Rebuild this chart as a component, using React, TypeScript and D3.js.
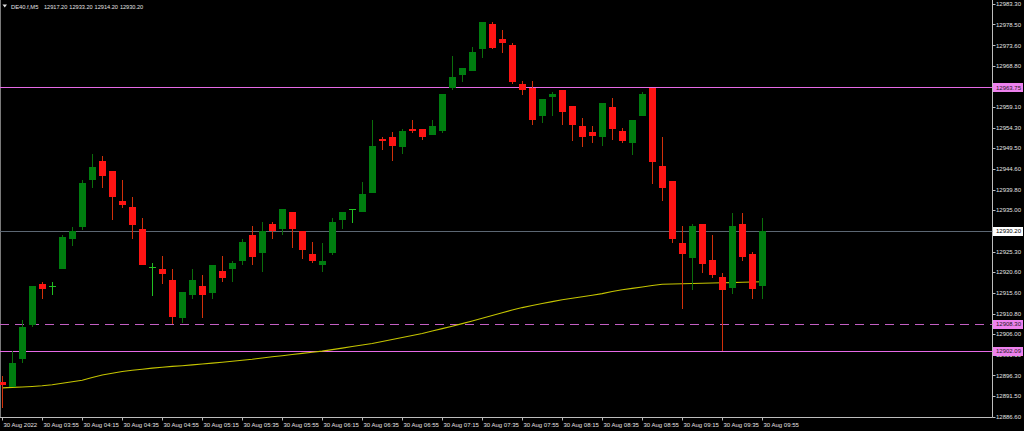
import React from "react";
import * as d3 from "d3";

// ---- data (DE40.f, M5) ----
const opens = [12894.7,12893.5,12900.2,12908.1,12917.7,12917.2,12921.2,12928.3,12931.1,12942.1,12946.6,12944.2,12937.2,12935.8,12930.7,12921.7,12921.2,12918.7,12909.8,12915.2,12917.3,12915.7,12920.8,12921.2,12923.2,12929.2,12925.1,12931.8,12930.6,12934.7,12930.2,12924.8,12922.2,12925.1,12932.7,12935.1,12934.6,12939.1,12951.7,12952.2,12949.7,12954.0,12954.1,12952.6,12953.6,12963.6,12966.6,12967.7,12972.7,12978.7,12975.1,12973.7,12964.6,12963.6,12957.1,12961.6,12963.2,12959.3,12954.7,12953.3,12952.2,12959.2,12953.6,12950.7,12957.1,12963.6,12945.4,12941.9,12927.3,12923.7,12931.7,12923.3,12919.4,12916.7,12931.8,12924.8,12917.2];
const highs = [12896.2,12902.0,12909.3,12917.3,12918.3,12918.3,12929.2,12931.1,12942.1,12948.2,12947.7,12944.2,12942.1,12938.2,12933.2,12922.6,12924.3,12921.2,12915.9,12921.2,12919.8,12922.2,12924.3,12923.2,12928.3,12931.2,12932.3,12932.3,12935.3,12934.7,12930.2,12927.6,12927.3,12933.2,12934.6,12935.3,12941.7,12956.1,12952.1,12953.3,12954.0,12956.1,12954.1,12956.1,12962.2,12971.1,12968.2,12973.2,12979.1,12979.1,12977.1,12974.1,12965.3,12965.3,12961.1,12962.7,12963.2,12959.3,12956.7,12954.7,12960.0,12961.2,12954.2,12956.1,12962.6,12963.6,12952.2,12941.9,12931.3,12931.8,12931.7,12929.2,12920.4,12934.3,12934.3,12925.3,12933.2];
const lows = [12888.7,12893.5,12899.2,12907.7,12914.2,12915.2,12921.2,12926.6,12930.4,12940.2,12940.2,12932.7,12935.6,12928.3,12922.2,12914.8,12917.7,12908.4,12908.7,12914.2,12909.8,12914.2,12918.3,12918.3,12922.2,12922.2,12920.6,12928.3,12929.2,12926.2,12923.6,12922.6,12920.6,12924.5,12930.6,12932.1,12934.6,12939.1,12949.1,12946.6,12948.1,12953.2,12951.5,12952.6,12953.2,12963.2,12965.1,12967.7,12970.6,12972.7,12971.9,12964.6,12962.0,12955.0,12955.5,12957.1,12955.0,12951.1,12949.7,12950.7,12950.0,12951.5,12950.7,12947.9,12957.1,12941.2,12937.2,12927.3,12911.8,12916.3,12920.2,12919.2,12902.1,12915.3,12923.1,12914.2,12914.2];
const closes = [12894.1,12899.3,12907.7,12917.3,12916.6,12917.3,12928.7,12930.2,12941.4,12945.2,12943.1,12938.1,12936.2,12931.6,12922.2,12921.8,12920.1,12910.1,12915.9,12918.7,12915.2,12922.2,12919.1,12922.6,12927.6,12924.1,12930.2,12930.2,12935.3,12930.6,12925.7,12923.2,12923.2,12932.3,12934.6,12935.2,12938.8,12950.1,12951.1,12950.1,12953.6,12953.6,12952.1,12954.7,12962.2,12966.1,12968.2,12972.1,12979.1,12973.1,12974.1,12965.1,12963.2,12956.1,12961.1,12962.2,12958.1,12955.0,12952.1,12952.5,12960.0,12954.0,12951.1,12956.1,12962.2,12946.2,12940.3,12928.3,12924.8,12931.3,12922.3,12919.8,12916.3,12931.3,12924.1,12916.6,12930.2];
const maValues = [12893.39,12893.51,12893.60,12893.72,12893.89,12894.14,12894.49,12894.85,12895.20,12895.83,12896.41,12896.81,12897.23,12897.54,12897.77,12898.03,12898.24,12898.43,12898.59,12898.78,12898.99,12899.20,12899.41,12899.62,12899.86,12900.09,12900.40,12900.68,12900.93,12901.22,12901.47,12901.75,12902.01,12902.36,12902.71,12903.09,12903.44,12903.79,12904.26,12904.73,12905.20,12905.67,12906.13,12906.70,12907.28,12907.84,12908.45,12909.08,12909.72,12910.35,12910.98,12911.64,12912.20,12912.67,12913.14,12913.60,12914.05,12914.40,12914.75,12915.10,12915.48,12915.95,12916.39,12916.70,12917.02,12917.37,12917.66,12917.73,12917.80,12917.84,12917.89,12917.96,12918.01,12918.05,12918.12,12918.19,12918.26];

const priceTicks = [12983.30,12978.50,12973.60,12968.80,12964.00,12959.10,12954.30,12949.50,12944.60,12939.80,12935.00,12930.10,12925.30,12920.60,12915.60,12910.80,12906.00,12901.10,12896.30,12891.50,12886.60];
const timeLabels = ["30 Aug 2022","30 Aug 03:55","30 Aug 04:15","30 Aug 04:35","30 Aug 04:55","30 Aug 05:15","30 Aug 05:35","30 Aug 05:55","30 Aug 06:15","30 Aug 06:35","30 Aug 06:55","30 Aug 07:15","30 Aug 07:35","30 Aug 07:55","30 Aug 08:15","30 Aug 08:35","30 Aug 08:55","30 Aug 09:15","30 Aug 09:35","30 Aug 09:55"];
const labelEvery = 4;

const levelPrices = [12963.75, 12908.30, 12902.09];
const levelDashed = [false, true, false];
const bidPrice = 12930.20;

const symbol = "DE40.f,M5";
const headerValues = ["12917.20", "12933.20", "12914.20", "12930.20"];

const W = 1024, H = 431;
const axisX = 992.5;
const plotBottom = 417.5;
const FONT = "'Liberation Sans', Arial, sans-serif";
const TXT = "#e2e2e2";

export default function App() {
  const n = closes.length;
  const x = d3.scaleLinear().domain([0, n - 1]).range([2.2, 2.2 + 10 * (n - 1)]);
  const y = d3.scaleLinear().domain([12886.60, 12983.30]).range([416.9, 4]);
  const py = (p: number) => Math.round(y(p)) + 0.5;
  const maLine = d3.line<number>().x((_, i) => x(i)).y((d) => y(d));

  const bull = "#007d10", bullWick = "#0b6e0b";
  const bear = "#ff1414", bearWick = "#d2300a";
  const doji = "#22c022";

  return (
    <svg width={W} height={H} style={{ position: "absolute", left: 0, top: 0, display: "block", background: "#000" }}
      fontFamily={FONT}>
      <rect x={0} y={0} width={W} height={H} fill="#000" />
      {/* frame */}
      <line x1={0.5} y1={0} x2={0.5} y2={plotBottom} stroke="#7a7a7a" />
      <line x1={axisX} y1={0} x2={axisX} y2={plotBottom} stroke="#bdbdbd" />
      <line x1={0} y1={plotBottom} x2={axisX} y2={plotBottom} stroke="#bdbdbd" />

      {/* horizontal levels */}
      <line x1={0} x2={axisX} y1={py(bidPrice)} y2={py(bidPrice)} stroke="#5c6773" />
      {levelPrices.map((p, i) => (
        <line key={"lv" + i} x1={0} x2={axisX} y1={py(p)} y2={py(p)}
          stroke={levelDashed[i] ? "#c25ec2" : "#e66ae6"} strokeDasharray={levelDashed[i] ? "9,6" : undefined} />
      ))}

      {/* moving average */}
      <path d={maLine(maValues) || ""} fill="none" stroke="#c4c400" strokeWidth={1.1} />

      {/* candles */}
      <g shapeRendering="crispEdges">
        {closes.map((c, i) => {
          const o = opens[i], h = highs[i], l = lows[i];
          const cx = Math.round(x(i)) + 0.5;
          const up = c >= o;
          const isDoji = Math.abs(c - o) < 0.15;
          const top = Math.round(y(Math.max(o, c))), bot = Math.round(y(Math.min(o, c)));
          if (isDoji) {
            return (
              <g key={i}>
                <line x1={cx} x2={cx} y1={y(h)} y2={y(l)} stroke={doji} />
                <line x1={cx - 3.5} x2={cx + 3.5} y1={py(c)} y2={py(c)} stroke={doji} />
              </g>
            );
          }
          return (
            <g key={i}>
              <line x1={cx} x2={cx} y1={y(h)} y2={y(l)} stroke={up ? bullWick : bearWick} />
              <rect x={cx - 3.5} y={top} width={7} height={Math.max(1, bot - top)} fill={up ? bull : bear} />
            </g>
          );
        })}
      </g>

      {/* price axis */}
      {priceTicks.map((p) => (
        <g key={"pt" + p}>
          <line x1={axisX} x2={axisX + 3} y1={py(p)} y2={py(p)} stroke="#bdbdbd" />
          <text x={996} y={y(p) + 2.1} fontSize={6} fill={TXT}>{p.toFixed(2)}</text>
        </g>
      ))}
      {/* price boxes */}
      {[...levelPrices.map((p) => ({ p, bg: "#ee82ee", fg: "#1a1a1a", t: p.toFixed(2) })),
        { p: bidPrice, bg: "#ffffff", fg: "#000000", t: bidPrice.toFixed(2) }].map((b, i) => (
        <g key={"bx" + i}>
          <rect x={axisX + 0.5} y={Math.round(y(b.p)) - 4} width={W - axisX - 1.5} height={9} fill={b.bg} />
          <text x={996} y={y(b.p) + 2.1} fontSize={6} fill={b.fg}>{b.t}</text>
        </g>
      ))}

      {/* time axis */}
      {timeLabels.map((t, k) => {
        const tx = Math.round(x(k * labelEvery)) + 0.5;
        return (
          <g key={"tl" + k}>
            <line x1={tx} x2={tx} y1={plotBottom} y2={plotBottom + 3} stroke="#bdbdbd" />
            <text x={tx + 1} y={426.5} fontSize={6} fill={TXT}>{t}</text>
          </g>
        );
      })}

      {/* header */}
      <path d="M2.5,4.5 L7,4.5 L4.75,7.5 Z" fill={TXT} />
      <text x={11} y={8.6} fontSize={5.8} fill={TXT}>{symbol}</text>
      {headerValues.map((v, i) => (
        <text key={"hv" + i} x={44 + i * 25.3} y={8.6} fontSize={5.6} fill={TXT}>{v}</text>
      ))}
    </svg>
  );
}
